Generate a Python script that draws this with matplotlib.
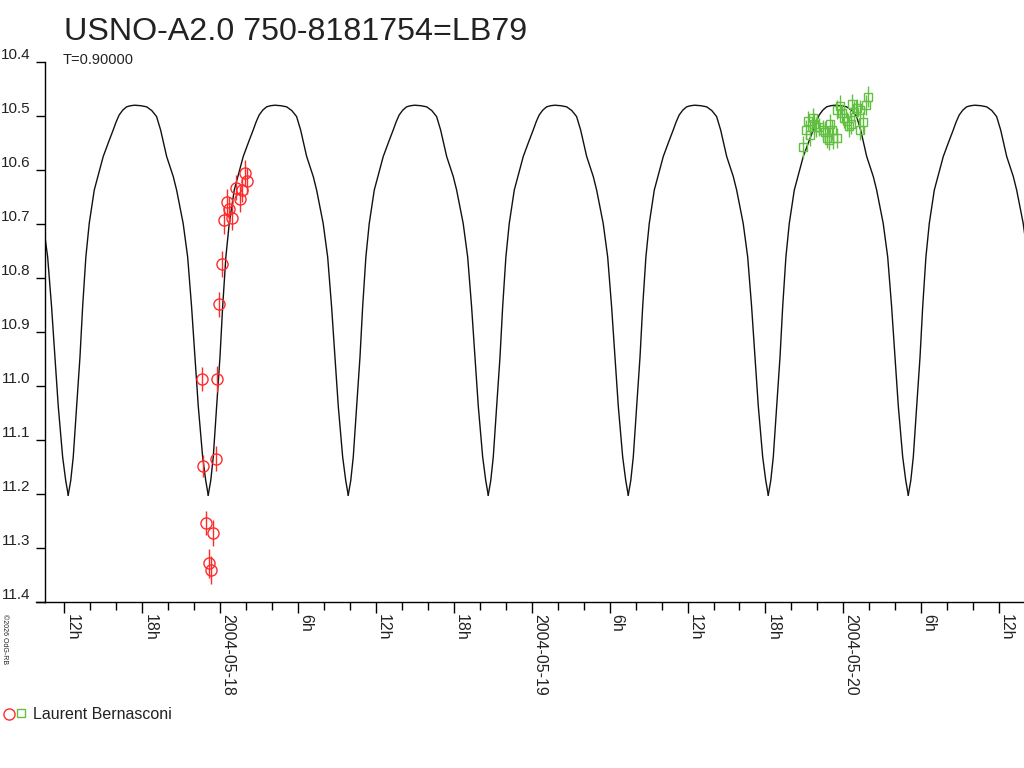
import datetime as dt
import numpy as np
import matplotlib
matplotlib.use("Agg")
import matplotlib.pyplot as plt
import matplotlib.dates as mdates
from matplotlib.lines import Line2D
from matplotlib.ticker import FuncFormatter, MultipleLocator

plt.rcParams['font.family'] = ['Liberation Sans', 'DejaVu Sans']

# --- data (hours since 2004-05-18 00:00 UT) ---
BASE = dt.datetime(2004, 5, 18)

# model light curve: one cycle (phase from minimum, mag)
model_phase = [0.000, 0.018, 0.036, 0.060, 0.084, 0.103, 0.126, 0.150, 0.186,
               0.250, 0.290, 0.321, 0.342, 0.364, 0.390, 0.417, 0.445, 0.476,
               0.520, 0.560, 0.597, 0.631, 0.660, 0.703, 0.750, 0.774, 0.821,
               0.853, 0.881, 0.905, 0.929, 0.960, 0.982]
model_mag = [11.202, 11.175, 11.131, 11.038, 10.946, 10.853, 10.761, 10.699, 10.637,
             10.575, 10.547, 10.526, 10.511, 10.498, 10.489, 10.483, 10.481, 10.480,
             10.481, 10.483, 10.490, 10.501, 10.526, 10.575, 10.612, 10.637, 10.699,
             10.761, 10.853, 10.946, 11.038, 11.131, 11.175]
period_h = 10.786
t_min_h = 9.861

red_t = [-1.43, -0.23, -1.31, -0.35, -1.10, -0.54, -0.89, -0.74, -0.08, 0.11,
         0.29, 0.49, 0.67, 0.92, 1.21, 1.52, 1.65, 1.93, 2.06]
red_mag = [10.987, 10.987, 11.148, 11.135, 11.253, 11.272, 11.328, 11.341, 10.849, 10.774,
           10.693, 10.659, 10.673, 10.688, 10.633, 10.654, 10.637, 10.605, 10.620]
red_err = [0.022, 0.024, 0.021, 0.023, 0.022, 0.024, 0.027, 0.026, 0.024, 0.024,
           0.025, 0.024, 0.023, 0.024, 0.023, 0.024, 0.022, 0.023, 0.024]

green_t = [44.92, 45.12, 45.25, 45.43, 45.69, 45.76, 45.89, 46.15, 46.41, 46.59,
           46.72, 46.92, 46.97, 47.10, 47.23, 47.49, 47.53, 47.74, 47.87, 48.07,
           48.26, 48.44, 48.57, 48.64, 48.82, 49.03, 49.28, 49.28, 49.54, 49.75, 49.92]
green_mag = [10.557, 10.525, 10.509, 10.535, 10.504, 10.514, 10.520, 10.520, 10.526, 10.529,
             10.541, 10.544, 10.514, 10.526, 10.541, 10.541, 10.488, 10.481, 10.495, 10.504,
             10.510, 10.519, 10.514, 10.478, 10.492, 10.486, 10.489, 10.525, 10.512, 10.480, 10.464]
green_err = [0.020, 0.018, 0.019, 0.020, 0.018, 0.019, 0.018, 0.017, 0.019, 0.020,
             0.018, 0.019, 0.018, 0.019, 0.020, 0.019, 0.018, 0.019, 0.018, 0.019,
             0.018, 0.019, 0.020, 0.018, 0.019, 0.018, 0.019, 0.020, 0.019, 0.018, 0.019]

RED = '#ff2a2a'
GREEN = '#62c040'


def to_num(hours):
    return mdates.date2num(BASE) + np.asarray(hours) / 24.0


fig = plt.figure(figsize=(10.24, 7.68), dpi=100)
ax = fig.add_axes([45 / 1024, 166 / 768, 979 / 1024, 540 / 768])

# model, repeated over the cycles shown
for k in range(-3, 6):
    t = t_min_h + (k + np.asarray(model_phase + [1.0])) * period_h
    ax.plot(to_num(t), model_mag + [model_mag[0]], color='#111111', lw=1.0, zorder=2)

ax.errorbar(to_num(red_t), red_mag, yerr=red_err, fmt='o', ms=8, mfc='none',
            mec=RED, ecolor=RED, elinewidth=1.0, mew=1.0, capsize=0, zorder=3)
ax.errorbar(to_num(green_t), green_mag, yerr=green_err, fmt='s', ms=6, mfc='none',
            mec=GREEN, ecolor=GREEN, elinewidth=1.0, mew=1.0, capsize=0, zorder=3)

ax.set_xlim(to_num(-13.5), to_num(61.92))
ax.set_ylim(11.4, 10.4)

for s in ['top', 'right']:
    ax.spines[s].set_visible(False)
for s in ['left', 'bottom']:
    ax.spines[s].set_linewidth(1.0)

ax.yaxis.set_major_locator(MultipleLocator(0.1))
ax.yaxis.set_major_formatter(FuncFormatter(lambda v, p: f"{v:.1f}"))
ax.tick_params(axis='y', direction='out', length=6.5, width=1.0, pad=4, labelsize=11,
               labelcolor='#222222')
for lab in ax.get_yticklabels():
    lab.set_va('bottom')

ax.xaxis.set_major_locator(mdates.HourLocator(byhour=[0, 6, 12, 18]))
ax.xaxis.set_minor_locator(mdates.HourLocator(byhour=range(0, 24, 2)))


def fmt_x(v, pos):
    d = mdates.num2date(v)
    if d.hour == 0:
        return d.strftime('%Y-%m-%d')
    return f"{d.hour}h"


ax.xaxis.set_major_formatter(FuncFormatter(fmt_x))
ax.tick_params(axis='x', which='major', direction='out', length=8, width=1.0, pad=1,
               labelsize=11.5, labelcolor='#222222')
ax.tick_params(axis='x', which='minor', direction='out', length=5.8, width=1.0)
for lab in ax.get_xticklabels():
    lab.set_rotation(270)
    lab.set_ha('left')
    lab.set_va('top')

# small extension of the x axis line to the left
ax.plot([-9 / 979, 0], [0, 0], transform=ax.transAxes, color='black', lw=1.0, clip_on=False)

fig.text(64 / 1024, 1 - 40 / 768, "USNO-A2.0 750-8181754=LB79", fontsize=23.2,
         color='#222222', va='baseline', ha='left')
fig.text(63 / 1024, 1 - 64 / 768, "T=0.90000", fontsize=10.5, color='#222222',
         va='baseline', ha='left')
fig.text(1 / 1024, 1 - 614 / 768, "\u00a92026 OdG-RB", fontsize=5, rotation=270,
         ha='left', va='top', color='#222222')

# legend
fig.add_artist(Line2D([9 / 1024], [1 - 714 / 768], marker='o', ms=8, mfc='none',
                      mec=RED, mew=1.0, ls='none'))
fig.add_artist(Line2D([21 / 1024], [1 - 713 / 768], marker='s', ms=6, mfc='none',
                      mec=GREEN, mew=1.0, ls='none'))
fig.text(33 / 1024, 1 - 719 / 768, "Laurent Bernasconi", fontsize=11.5, color='#222222',
         va='baseline', ha='left')

fig.savefig("out.png", dpi=100)
